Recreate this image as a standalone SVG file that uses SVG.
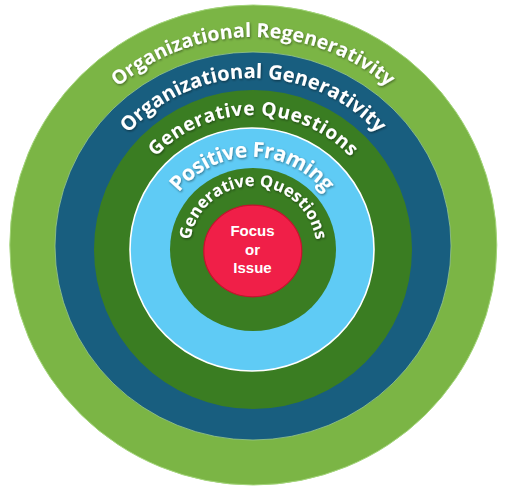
<svg xmlns="http://www.w3.org/2000/svg" width="510" height="493" viewBox="0 0 510 493">
  <defs>
    <filter id="ts" x="-10%" y="-30%" width="120%" height="160%">
      <feDropShadow dx="0.8" dy="1.2" stdDeviation="0.8" flood-color="#000" flood-opacity="0.45"/>
    </filter>
    <path id="p1" d="M45,245 A208,208 0 0 1 461,245"/>
    <path id="p2" d="M85,246 A168,168 0 0 1 421,246"/>
    <path id="p3" d="M118.5,249.5 A134.5,134.5 0 0 1 387.5,249.5"/>
    <path id="p4" d="M159.5,249.5 A92.5,92.5 0 0 1 344.5,249.5"/>
    <path id="p5" d="M189.5,249.5 A63.5,63.5 0 0 1 316.5,249.5"/>
  </defs>
  <style>
    .lbl { font-family: "Open Sans", "Liberation Sans", sans-serif; font-weight: 700; fill: #ffffff; filter: url(#ts); }
    .ctr { font-family: "Liberation Sans", Arial, sans-serif; font-weight: 700; fill: #ffffff; font-size: 15px; text-anchor: middle; }
  </style>
  <rect width="510" height="493" fill="#ffffff"/>
  <g id="ring-organizational-regenerativity">
    <ellipse cx="253.3" cy="245" rx="243.5" ry="240" fill="#7bb545" stroke="#a3d57a" stroke-width="1"/>
    <text class="lbl" font-size="19.5"><textPath href="#p1" startOffset="50%" text-anchor="middle" textLength="294" lengthAdjust="spacing">Organizational Regenerativity</textPath></text>
  </g>
  <g id="ring-organizational-generativity">
    <ellipse cx="253" cy="246" rx="198" ry="194" fill="#185e7f" stroke="#9cc98a" stroke-width="0.8"/>
    <text class="lbl" font-size="20"><textPath href="#p2" startOffset="50%" text-anchor="middle" textLength="281" lengthAdjust="spacing">Organizational Generativity</textPath></text>
  </g>
  <g id="ring-generative-questions-outer">
    <ellipse cx="253" cy="249.5" rx="159" ry="159.5" fill="#3a7d22"/>
    <text class="lbl" font-size="19"><textPath href="#p3" startOffset="50%" text-anchor="middle" textLength="218" lengthAdjust="spacing">Generative Questions</textPath></text>
  </g>
  <g id="ring-positive-framing">
    <ellipse cx="252" cy="249.5" rx="122" ry="121.5" fill="#5fcbf5" stroke="#ffffff" stroke-width="1.6"/>
    <text class="lbl" font-size="21"><textPath href="#p4" startOffset="50%" text-anchor="middle" textLength="168" lengthAdjust="spacing">Positive Framing</textPath></text>
  </g>
  <g id="ring-generative-questions-inner">
    <ellipse cx="253" cy="249.5" rx="83" ry="81.5" fill="#3a7d22"/>
    <text class="lbl" font-size="16.5"><textPath href="#p5" startOffset="50%" text-anchor="middle" textLength="180" lengthAdjust="spacing">Generative Questions</textPath></text>
  </g>
  <g id="focus-or-issue">
    <ellipse cx="252.8" cy="251" rx="49" ry="45.8" fill="#f01f48" stroke="#c8102e" stroke-width="1.2"/>
    <text class="ctr" x="252.5" y="236">Focus</text>
    <text class="ctr" x="252.5" y="254.5">or</text>
    <text class="ctr" x="252.5" y="273">Issue</text>
  </g>
  <g id="connectors"/>
</svg>
